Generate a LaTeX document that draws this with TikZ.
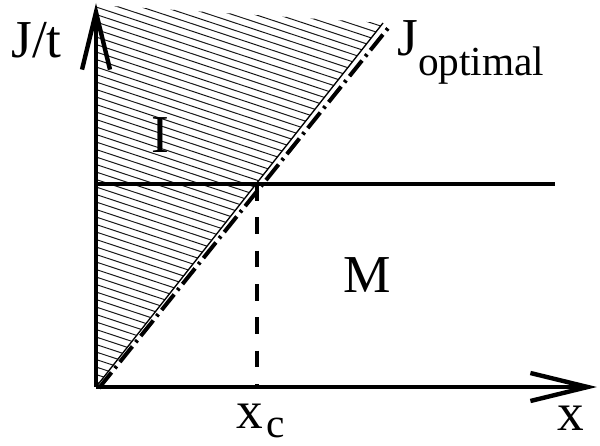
\documentclass[tikz,border=0pt]{standalone}
\usepackage{fontspec}
\setmainfont{Liberation Serif}
\usetikzlibrary{arrows.meta}
\tikzset{
  axisline/.style={line width=3pt, -{Straight Barb[length=43pt,width=21pt,line width=3.3pt]}},
  boundary/.style={line width=2.6pt},
  hatchline/.style={line width=0.75pt, black!90},
  dashdot/.style={line width=3pt, dash pattern=on 15pt off 4pt on 2pt off 4pt},
  vdash/.style={line width=2.6pt, dash pattern=on 12.5pt off 12.5pt},
  lbl/.style={inner sep=0pt, font=\fontsize{40}{44}\selectfont},
}
\newcommand{\subfnt}{\fontsize{31}{34}\selectfont}
\begin{document}
\begin{tikzpicture}[x=0.75pt,y=-0.75pt]
\useasboundingbox (0,0) rectangle (600,446);
\coordinate (O) at (96,387);
\coordinate (Ytip) at (96,3);
\coordinate (Xtip) at (597,387);
\coordinate (Htop) at (96,5);
\coordinate (Dend) at (383,23);
\coordinate (Dthick) at (389,27);
\coordinate (C) at (257,184);
\coordinate (Hleft) at (96,184);
\coordinate (Hright) at (555,184);
\coordinate (Cbot) at (257,387);
% hatching
\begin{scope}
  \clip (O) -- (Htop) -- (Dend) -- cycle;
  \foreach \y in {-100,-92.5,...,400} {
    \draw[hatchline] (90,\y) -- (420,\y+109);
  }
\end{scope}
\draw[line width=1pt] (O) -- (Dend);
\draw[dashdot] ([shift={(3,1)}]O) -- (Dthick);
% horizontal boundary and dashed vertical
\draw[boundary] (Hleft) -- (Hright);
\draw[vdash] (C) -- (Cbot);
% axes
\draw[axisline] (O) -- (Ytip);
\draw[axisline] (O) -- (Xtip);
% labels
\node[lbl, anchor=base west] (lJt) at (11,57) {J/t};
\node[lbl, anchor=base west] (lJo) at (397,55) {J\raisebox{-15pt}{\subfnt optimal}};
\node[lbl, anchor=base] (lI) at (160,152) {I};
\node[lbl, anchor=base] (lM) at (367,292) {M};
\node[lbl, anchor=base west] (lxc) at (236,428) {x\kern3pt\raisebox{-7pt}{\subfnt c}};
\node[lbl, anchor=base west] (lx) at (557,430) {x};
\end{tikzpicture}
\end{document}
